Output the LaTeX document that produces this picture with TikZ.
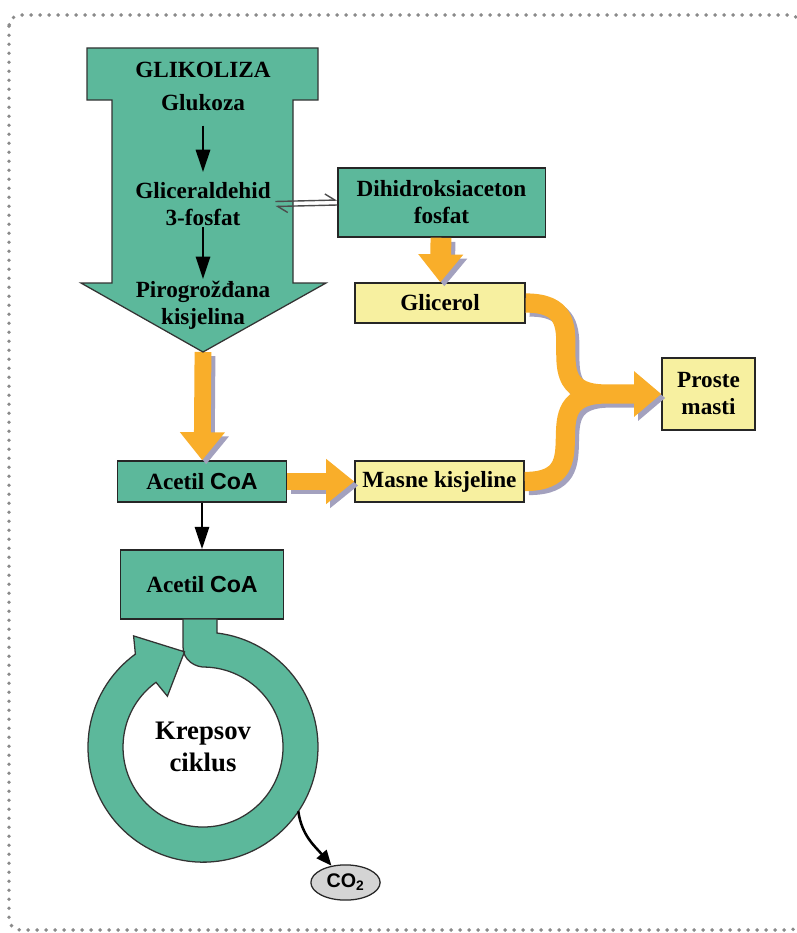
\documentclass[tikz,border=0pt]{standalone}
\usepackage{fontspec}
\setmainfont{Liberation Serif}
\newfontfamily\arialfont{Liberation Sans}
\usetikzlibrary{arrows.meta, positioning, shapes.geometric}
\definecolor{KrebsTeal}{HTML}{5CB89B}
\definecolor{FatYellow}{HTML}{F7F0A0}
\definecolor{FatOrange}{HTML}{F9AE2A}
\definecolor{ShadowGrey}{HTML}{A3A1BE}
\definecolor{FrameGrey}{HTML}{8A8A8A}
\definecolor{CoGrey}{HTML}{D4D4D4}
% orange flow with its grey drop shadow
\newcommand\fatflow[2][]{%
  \draw[fatarr, #1, draw=ShadowGrey, transform canvas={shift={(0.1cm,-0.1cm)}}] #2;
  \draw[fatarr, #1] #2;}

\begin{document}
\begin{tikzpicture}[
    x=0.025cm, y=0.025cm,
    font=\bfseries\fontsize{16.5}{19.2}\selectfont,
    boxst/.style={draw=black!85, line width=0.9pt, align=center, inner sep=0pt},
    tealst/.style={boxst, fill=KrebsTeal},
    yellowst/.style={boxst, fill=FatYellow},
    tealshape/.style={draw=black!80, line width=0.9pt, fill=KrebsTeal},
    txt/.style={align=center, inner sep=1pt},
    arr/.style={-{Triangle[width=10pt, length=16pt]}, line width=2pt},
    eqarr/.style={-{Straight Barb[left, length=7pt, width=9pt]}, line width=1pt, black!70},
    fatarr/.style={-{Triangle[width=1.08cm, length=0.7cm]}, line width=0.42cm, draw=FatOrange},
]
\useasboundingbox (0,0) rectangle (796,-933);

% --- Dotted frame ---
\draw[FrameGrey, line width=2.8pt, dash pattern=on 0pt off 6.4pt, line cap=round, rounded corners=8pt]
    (9,-15) rectangle (801,-930);

% --- Boxes ---
\node[tealst, minimum width=5.18cm, minimum height=1.73cm] at (441.5,-202.5) (dhap) {Dihidroksiaceton\\fosfat};
\node[yellowst, minimum width=4.25cm, minimum height=1.0cm] at (440,-303) (glic) {Glicerol};
\node[yellowst, minimum width=2.33cm, minimum height=1.8cm] at (708.5,-394) (proste) {Proste\\masti};
\node[yellowst, minimum width=4.23cm, minimum height=1.03cm] at (439.5,-481.5) (masne) {Masne kisjeline};
\node[tealst, minimum width=4.23cm, minimum height=1.03cm] at (202,-481.5) (acoa) {Acetil {\arialfont CoA}};
\node[tealst, minimum width=4.08cm, minimum height=1.73cm] at (202,-584.5) (acoak) {Acetil {\arialfont CoA}};
\node[ellipse, draw=black!85, line width=0.9pt, fill=CoGrey, minimum width=1.73cm, minimum height=0.88cm, inner sep=0pt,
    font=\arialfont\bfseries\fontsize{14}{16}\selectfont] at (345.5,-882.5) (co) {CO\textsubscript{2}};

% --- Orange flows ---
\coordinate (glytip) at (203,-352);
\coordinate (mrg) at (606,-394);
\fatflow{(glytip) -- (acoa)}
\fatflow[line width=0.52cm]{(dhap) -- (glic)}
\fatflow{(acoa) -- (masne)}
\fatflow[line width=0.48cm, -{Triangle[width=1.1cm, length=0.68cm]}]{%
    (glic.east) to[out=0, in=180, looseness=1.7] (mrg)
    (masne.east) to[out=0, in=180, looseness=1.7] (mrg) -- (proste)}

% --- Glycolysis arrow ---
\draw[tealshape] (87,-48) -- (318,-48) -- (318,-100) -- (293,-100) -- (293,-283) -- (326,-283)
    -- (glytip) -- (81,-283) -- (112,-283) -- (112,-100) -- (87,-100) -- cycle;
\node[txt] at (203,-70)  (gly) {GLIKOLIZA};
\node[txt] at (203,-103) (glu) {Glukoza};
\node[txt] at (203,-204) (gad) {Gliceraldehid\\3-fosfat};
\node[txt] at (203,-305) (pir) {Pirogrožđana\\kisjelina};
\draw[arr, shorten <=9pt, shorten >=6pt] (glu) -- (gad);
\draw[arr] (gad) -- (pir);

% --- Equilibrium with DHAP ---
\draw[eqarr] ([shift={(3,2.5)}]gad.east) -- ([shift={(0,2.5)}]dhap.west);
\draw[eqarr] ([shift={(0,-2.5)}]dhap.west) -- ([shift={(3,-2.5)}]gad.east);

% --- Krebs cycle ring ---
\coordinate (kc) at (203,-747);
\draw[tealshape] (183,-619) -- (217,-619) -- (217,-633)
    arc[start angle=83, end angle=-234, radius=115]
    -- (133.6,-635.9) -- (184.5,-651.8) -- (167.4,-696.2) -- (156,-682.3)
    arc[start angle=126, end angle=447, radius=80]
    .. controls (195,-668) and (183,-660) .. (183,-647) -- cycle;
\node[txt, font=\bfseries\fontsize{19}{22.8}\selectfont] at (kc) (krebs) {Krepsov\\ciklus};

\draw[arr] (acoa) -- (acoak);

% --- CO2 release ---
\coordinate (coout) at (298.3,-811.3);
\draw[-{Triangle[width=9pt, length=11pt]}, line width=1.8pt] (coout) to[out=-82, in=130] (co);

\end{tikzpicture}
\end{document}
